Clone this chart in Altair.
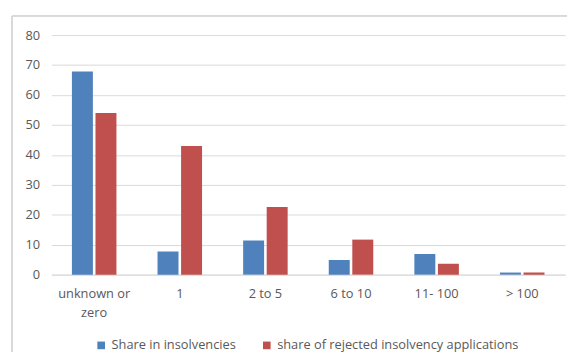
import altair as alt
import pandas as pd

categories = ["unknown or zero", "1", "2 to 5", "6 to 10", "11- 100", "> 100"]
share_insolvencies = [67.8, 7.7, 11.4, 4.9, 6.9, 0.7]
share_rejected = [54.0, 43.0, 22.6, 11.7, 3.6, 0.7]
series_names = ["Share in insolvencies", "share of rejected insolvency applications"]
colors = ["#4F81BD", "#C0504D"]

rows = []
for c, a, b in zip(categories, share_insolvencies, share_rejected):
    rows.append({"cat": c, "series": series_names[0], "value": a})
    rows.append({"cat": c, "series": series_names[1], "value": b})
df = pd.DataFrame(rows)

FONT = "Open Sans"
GRAY = "#595959"
FS = 13

bars = alt.Chart(df).mark_bar().encode(
    x=alt.X("cat:N", sort=categories, title=None,
            scale=alt.Scale(paddingInner=0.48, paddingOuter=0.24),
            axis=alt.Axis(labelAngle=0, ticks=False, domainColor="#D9D9D9",
                          labelPadding=13, labelLineHeight=19,
                          labelExpr="datum.label == 'unknown or zero' ? ['unknown or', 'zero'] : datum.label")),
    xOffset=alt.XOffset("series:N", sort=series_names,
                        scale=alt.Scale(paddingInner=0.11)),
    y=alt.Y("value:Q", title=None,
            scale=alt.Scale(domain=[0, 80]),
            axis=alt.Axis(values=list(range(0, 81, 10)), ticks=False, domain=False,
                          labelPadding=12, gridColor="#D9D9D9")),
    color=alt.Color("series:N", sort=series_names,
                    scale=alt.Scale(domain=series_names, range=colors),
                    legend=alt.Legend(title=None, orient="none", direction="horizontal",
                                      legendX=44, legendY=308, symbolType="square",
                                      symbolSize=60, symbolStrokeWidth=0,
                                      columnPadding=24, labelOffset=4, labelLimit=400)),
)

frame = alt.Chart(df).mark_rect(fill=None, stroke="#D9D9D9", strokeWidth=1).encode(
    x=alt.value(-40), x2=alt.value(560), y=alt.value(-19), y2=alt.value(345)
)

chart = alt.layer(frame, bars).properties(
    width=521, height=243,
    autosize=alt.AutoSizeParams(type="none"),
    padding={"left": 44, "top": 25, "right": 2, "bottom": 76},
).configure_view(stroke=None).configure_axis(
    labelFont=FONT, labelFontSize=FS, labelColor=GRAY,
).configure_legend(
    labelFont=FONT, labelFontSize=FS, labelColor=GRAY,
)

chart.save("out.html", embed_options={"renderer": "svg", "actions": False})
